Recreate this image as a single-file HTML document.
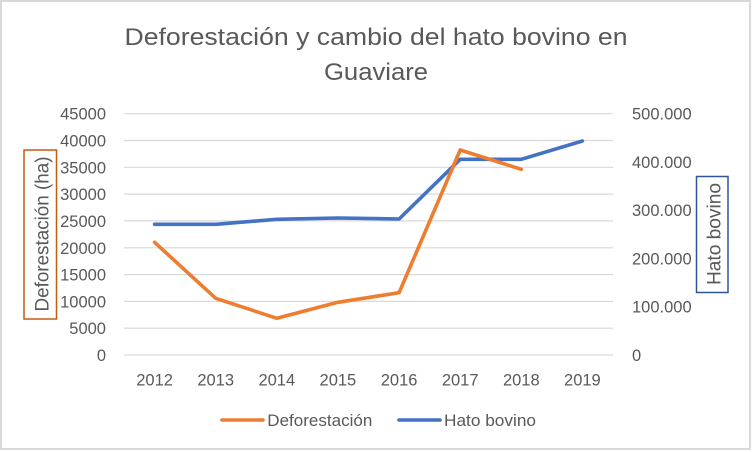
<!DOCTYPE html>
<html>
<head>
<meta charset="utf-8">
<style>
html,body{margin:0;padding:0;background:#fff;}
svg{display:block;}
text{font-family:"Liberation Sans",Arial,sans-serif;fill:#595959;}
</style>
</head>
<body>
<svg width="752" height="452" viewBox="0 0 752 452" xmlns="http://www.w3.org/2000/svg">
<rect x="0" y="0" width="752" height="452" fill="#fff"/>
<rect x="1" y="1" width="749" height="448" fill="#fff" stroke="#d9d9d9" stroke-width="2"/>

<!-- title -->
<text x="376" y="45" font-size="24" text-anchor="middle" textLength="503" lengthAdjust="spacingAndGlyphs">Deforestación y cambio del hato bovino en</text>
<text x="376" y="80" font-size="24" text-anchor="middle" textLength="104" lengthAdjust="spacingAndGlyphs">Guaviare</text>

<!-- gridlines -->
<g stroke="#d9d9d9" stroke-width="1.2">
<line x1="124" x2="613" y1="113.7" y2="113.7"/>
<line x1="124" x2="613" y1="140.5" y2="140.5"/>
<line x1="124" x2="613" y1="167.3" y2="167.3"/>
<line x1="124" x2="613" y1="194.1" y2="194.1"/>
<line x1="124" x2="613" y1="220.9" y2="220.9"/>
<line x1="124" x2="613" y1="247.8" y2="247.8"/>
<line x1="124" x2="613" y1="274.6" y2="274.6"/>
<line x1="124" x2="613" y1="301.4" y2="301.4"/>
<line x1="124" x2="613" y1="328.2" y2="328.2"/>
<line x1="124" x2="613" y1="355" y2="355"/>
</g>

<!-- left tick labels -->
<g font-size="16.5" text-anchor="end">
<text x="106" y="119.7">45000</text>
<text x="106" y="146.5">40000</text>
<text x="106" y="173.3">35000</text>
<text x="106" y="200.1">30000</text>
<text x="106" y="226.9">25000</text>
<text x="106" y="253.8">20000</text>
<text x="106" y="280.6">15000</text>
<text x="106" y="307.4">10000</text>
<text x="106" y="334.2">5000</text>
<text x="106" y="361">0</text>
</g>

<!-- right tick labels -->
<g font-size="16.5" text-anchor="start">
<text x="632" y="119.7">500.000</text>
<text x="632" y="168">400.000</text>
<text x="632" y="216.2">300.000</text>
<text x="632" y="264.5">200.000</text>
<text x="632" y="312.7">100.000</text>
<text x="632" y="361">0</text>
</g>

<!-- x labels -->
<g font-size="16.5" text-anchor="middle">
<text x="154.6" y="385.7">2012</text>
<text x="215.7" y="385.7">2013</text>
<text x="276.8" y="385.7">2014</text>
<text x="337.9" y="385.7">2015</text>
<text x="399.1" y="385.7">2016</text>
<text x="460.2" y="385.7">2017</text>
<text x="521.3" y="385.7">2018</text>
<text x="582.4" y="385.7">2019</text>
</g>

<!-- axis titles -->
<rect x="24" y="150" width="32.5" height="169" fill="none" stroke="#c55a11" stroke-width="1.5"/>
<text transform="translate(48.5,234) rotate(-90)" font-size="19" text-anchor="middle" textLength="155" lengthAdjust="spacingAndGlyphs">Deforestación (ha)</text>
<rect x="696.5" y="176.5" width="31.5" height="116" fill="none" stroke="#2f5597" stroke-width="1.5"/>
<text transform="translate(720.5,234) rotate(-90)" font-size="19" text-anchor="middle" textLength="102" lengthAdjust="spacingAndGlyphs">Hato bovino</text>

<!-- series -->
<polyline fill="none" stroke="#4472c4" stroke-width="3.6" stroke-linejoin="round" stroke-linecap="round"
 points="154.6,224.3 215.7,224.3 276.8,219.3 337.9,218 399.1,219 460.2,159.3 521.3,159.3 582.4,141"/>
<polyline fill="none" stroke="#ed7d31" stroke-width="3.6" stroke-linejoin="round" stroke-linecap="round"
 points="154.6,242.3 215.7,298.3 276.8,318.3 337.9,302.3 399.1,292.7 460.2,150 521.3,169.3"/>

<!-- legend -->
<line x1="222" y1="420" x2="263" y2="420" stroke="#ed7d31" stroke-width="3.6" stroke-linecap="round"/>
<text x="267.3" y="426" font-size="16.5" textLength="105" lengthAdjust="spacingAndGlyphs">Deforestación</text>
<line x1="399" y1="420" x2="440" y2="420" stroke="#4472c4" stroke-width="3.6" stroke-linecap="round"/>
<text x="444" y="426" font-size="16.5" textLength="92" lengthAdjust="spacingAndGlyphs">Hato bovino</text>
</svg>
</body>
</html>
